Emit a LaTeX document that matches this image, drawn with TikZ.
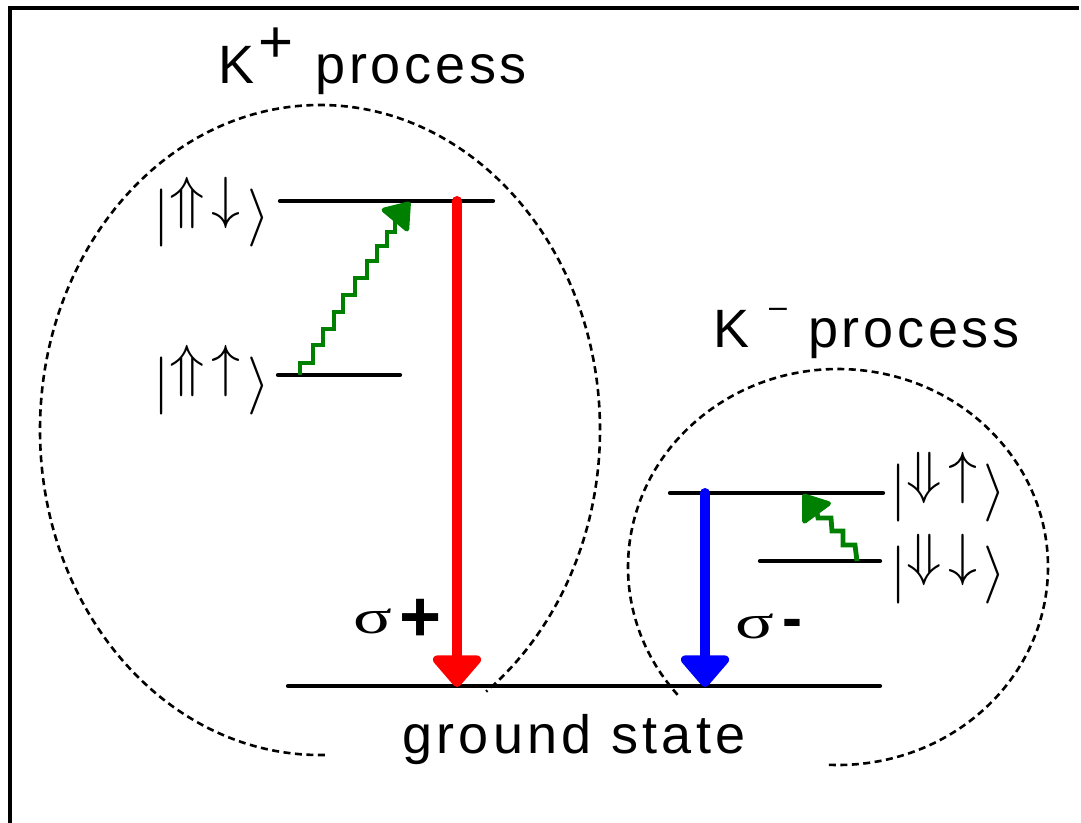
\RequirePackage{fix-cm}
\documentclass[tikz,border=0pt]{standalone}
\usepackage{fontspec}
\usepackage{graphicx}
\setmainfont{Liberation Sans}
\newfontfamily\lbl[LetterSpace=7]{Liberation Sans}
\newfontfamily\lblw[LetterSpace=8]{Liberation Sans}
\newfontfamily\grk{Liberation Serif}
\usetikzlibrary{arrows.meta}
\definecolor{phgreen}{RGB}{0,128,0}
\definecolor{sigred}{RGB}{255,0,0}
\definecolor{sigblue}{RGB}{0,0,255}
\begin{document}
\begin{tikzpicture}[x=1pt,y=-1pt,
  lvl/.style={line width=4.2pt,line cap=round},
  region/.style={line width=2.6pt,dash pattern=on 7pt off 4.5pt},
  photon/.style={phgreen,line width=4.8pt},
  phead/.style={phgreen,line width=4.8pt,-{Triangle[width=38pt,length=27pt,round]}},
  emit/.style={line width=10pt,line cap=round,-{Triangle[width=56pt,length=34pt,round]}},
  proc/.style={font=\fontsize{54}{60}\lbl,inner sep=0pt,anchor=base west},
  ketlbl/.style={font=\fontsize{58}{60}\selectfont,inner sep=0pt},
  sig/.style={inner sep=0pt,anchor=base west}]
\path[use as bounding box,clip] (0,0) rectangle (1081,822);
% frame
\draw[line width=3.3pt] (10,826) -- (10,8) -- (1079,8);
% regions
\coordinate (LC) at (320,430);
\coordinate (RC) at (838,567);
\draw[region] ([shift={(89:280 and 325)}]LC) arc[start angle=89,end angle=413.6,x radius=280,y radius=325];
\draw[region] ([shift={(139.8:210 and 198)}]RC) arc[start angle=139.8,end angle=452.7,x radius=210,y radius=198];
% levels
\coordinate (uL1) at (280,201); \coordinate (uL2) at (493,201);
\coordinate (lL1) at (278,375); \coordinate (lL2) at (400,375);
\coordinate (uR1) at (670,493); \coordinate (uR2) at (883,493);
\coordinate (lR1) at (760,561); \coordinate (lR2) at (880,561);
\coordinate (g1) at (288,686); \coordinate (g2) at (880,686);
\draw[lvl] (uL1) -- (uL2);
\draw[lvl] (lL1) -- (lL2);
\draw[lvl] (uR1) -- (uR2);
\draw[lvl] (lR1) -- (lR2);
\draw[lvl] (g1) -- (g2);
% emission arrows
\coordinate (rTop) at (457,201); \coordinate (rBot) at (457,687);
\coordinate (bTop) at (705,493); \coordinate (bBot) at (705,687);
\draw[emit,sigred] (rTop) -- (rBot);
\draw[emit,sigblue] (bTop) -- (bBot);
% photon (staircase) arrows
\coordinate (gLs) at (300,375); \coordinate (gLe) at (410,202);
\draw[photon] (gLs) -- ++(0,-12) -- ++(13,0) -- ++(0,-18) -- ++(10,0) -- ++(0,-16) -- ++(11,0) -- ++(0,-17) -- ++(9,0) -- ++(0,-17) -- ++(12,0) -- ++(0,-17) -- ++(12,0) -- ++(0,-17) -- ++(10,0) -- ++(0,-15) -- ++(10,0) -- ++(0,-14) -- ++(8,0) -- ++(0,-12) coordinate (gLa);
\draw[phead] (gLa) -- (gLe);
\coordinate (gRs) at (857,561); \coordinate (gRe) at (803,494);
\draw[photon] (gRs) -- ++(-2,-16) -- ++(-12,0) -- ++(0,-14) -- ++(-11,0) -- ++(-1,-13) -- ++(-13,0) -- ++(-1,-5) coordinate (gRa);
\draw[phead] (gRa) -- (gRe);
% ket labels
\node[ketlbl,anchor=base east] (kUL) at (270,232.5) {$|\raisebox{0.26em}{$\Uparrow\mkern2mu\downarrow$}\mkern2mu\rangle$};
\node[ketlbl,anchor=base east] (kLL) at (270,400.5) {$|\raisebox{0.26em}{$\Uparrow\mkern2mu\uparrow$}\mkern2mu\rangle$};
\node[ketlbl,anchor=base west] (kUR) at (890,507.5) {$|\raisebox{0.26em}{$\Downarrow\mkern2mu\uparrow$}\mkern2mu\rangle$};
\node[ketlbl,anchor=base west] (kLR) at (890,589.5) {$|\raisebox{0.26em}{$\Downarrow\mkern2mu\downarrow$}\mkern2mu\rangle$};
% process titles
\node[proc] (kp) at (218,83) {K\kern4pt\raisebox{21pt}{\fontsize{60}{60}\selectfont +}\kern22pt process};
\node[proc] (km) at (713,347) {K\kern20pt\raisebox{30pt}{\fontsize{32}{32}\selectfont –}\kern21pt process};
\node[proc,font=\fontsize{54}{60}\lblw] (gs) at (402,753) {ground state};
% polarisation labels
\node[sig] (sp) at (353,633) {\grk\fontsize{48}{50}\selectfont\scalebox{1.5}[1]{σ}\kern7pt\raisebox{-8pt}{\rmfamily\bfseries\fontsize{72}{72}\selectfont +}};
\node[sig] (sm) at (735,638) {\grk\fontsize{48}{50}\selectfont\scalebox{1.5}[1]{σ}\kern8pt{\rmfamily\bfseries\fontsize{60}{62}\selectfont -}};
\end{tikzpicture}
\end{document}
